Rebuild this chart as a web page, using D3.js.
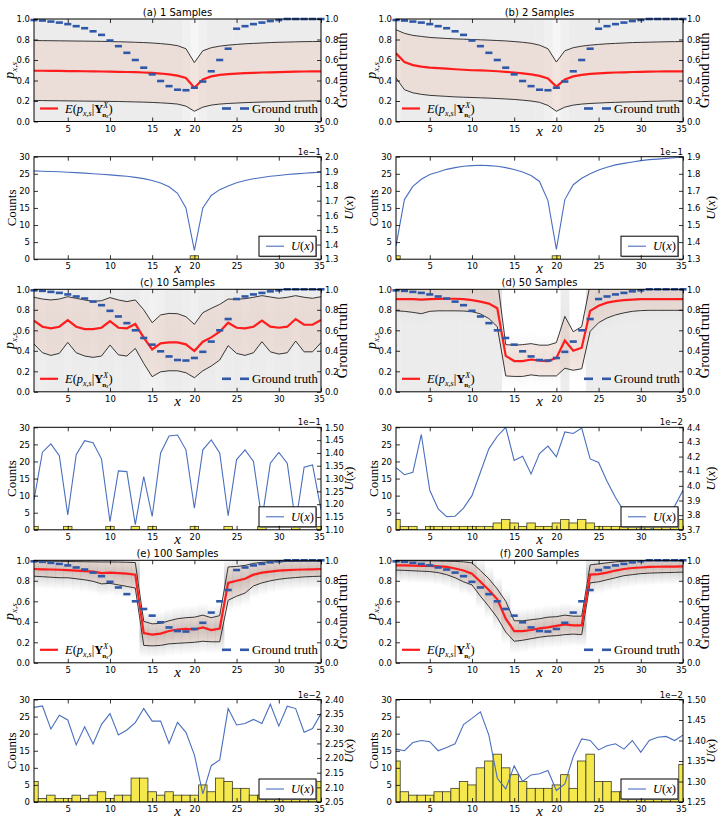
<!DOCTYPE html>
<html><head><meta charset="utf-8">
<script src="https://cdn.jsdelivr.net/npm/d3@7"></script>
<style>body{margin:0;background:#fff}svg{display:block}</style>
</head><body>
<svg id="chart" width="724" height="826"></svg>
<script>
// ---------------- DATA ----------------
const xs = d3.range(1, 36);
const xTicks = [5, 10, 15, 20, 25, 30, 35];
const pTicks = [0, 0.2, 0.4, 0.6, 0.8, 1.0];
const countTicks = [0, 5, 10, 15, 20, 25, 30];

const groundTruth = [0.99,0.985,0.975,0.965,0.95,0.93,0.91,0.88,0.845,0.79,0.735,0.67,0.6,0.525,0.46,0.395,0.345,0.31,0.305,0.33,0.39,0.49,0.6,0.71,0.905,0.93,0.95,0.965,0.98,0.99,1.0,1.0,1.0,1.0,1.0];

const meanA  = [0.495,0.495,0.494,0.493,0.492,0.491,0.49,0.489,0.488,0.487,0.485,0.483,0.481,0.478,0.474,0.468,0.46,0.448,0.425,0.33,0.41,0.44,0.455,0.463,0.468,0.472,0.475,0.478,0.48,0.482,0.484,0.486,0.488,0.489,0.49];
const upperA = [0.79,0.789,0.788,0.787,0.786,0.785,0.784,0.783,0.782,0.78,0.778,0.776,0.773,0.77,0.766,0.76,0.752,0.74,0.71,0.575,0.69,0.72,0.735,0.745,0.752,0.758,0.762,0.766,0.77,0.773,0.775,0.777,0.779,0.78,0.781];
const lowerA = [0.205,0.204,0.203,0.202,0.201,0.2,0.199,0.198,0.197,0.196,0.195,0.193,0.191,0.189,0.186,0.182,0.177,0.17,0.15,0.1,0.14,0.16,0.17,0.176,0.18,0.184,0.187,0.19,0.192,0.194,0.196,0.198,0.2,0.201,0.202];
const countsA = [0,0,0,0,0,0,0,0,0,0,0,0,0,0,0,0,0,0,0,1,0,0,0,0,0,0,0,0,0,0,0,0,0,0,0];
const uA = [1.903,1.901,1.899,1.897,1.894,1.891,1.888,1.884,1.88,1.876,1.871,1.866,1.859,1.85,1.838,1.821,1.795,1.75,1.65,1.36,1.65,1.735,1.775,1.80,1.822,1.837,1.849,1.858,1.866,1.872,1.878,1.883,1.887,1.891,1.894];
const densA = [1,1,1,1,1,1,1,1,1,1,1,1,1,1,1,1,1,1,0.8,0.45,0.8,1,1,1,1,1,1,1,1,1,1,1,1,1,1];

const meanB  = [0.665,0.58,0.55,0.535,0.525,0.52,0.515,0.51,0.505,0.5,0.498,0.495,0.49,0.485,0.478,0.47,0.46,0.445,0.42,0.34,0.41,0.44,0.455,0.465,0.47,0.475,0.478,0.48,0.483,0.485,0.487,0.488,0.49,0.49,0.49];
const upperB = [0.895,0.86,0.84,0.83,0.82,0.815,0.81,0.806,0.803,0.8,0.797,0.794,0.79,0.786,0.78,0.773,0.763,0.745,0.71,0.58,0.69,0.72,0.735,0.745,0.752,0.758,0.762,0.766,0.77,0.772,0.774,0.776,0.778,0.779,0.78];
const lowerB = [0.425,0.31,0.28,0.265,0.255,0.25,0.245,0.24,0.237,0.234,0.231,0.228,0.224,0.22,0.215,0.208,0.2,0.187,0.157,0.1,0.14,0.16,0.17,0.176,0.18,0.184,0.187,0.19,0.192,0.194,0.196,0.198,0.2,0.201,0.202];
const countsB = [1,0,0,0,0,0,0,0,0,0,0,0,0,0,0,0,0,0,0,1,0,0,0,0,0,0,0,0,0,0,0,0,0,0,0];
const uB = [1.378,1.649,1.726,1.768,1.796,1.81,1.826,1.836,1.844,1.848,1.85,1.848,1.844,1.836,1.825,1.81,1.79,1.755,1.643,1.358,1.649,1.736,1.774,1.80,1.822,1.838,1.852,1.861,1.869,1.877,1.883,1.886,1.89,1.894,1.898];
const densB = [0.7,1,1,1,1,1,1,1,1,1,1,1,1,1,1,1,1,1,0.8,0.45,0.8,1,1,1,1,1,1,1,1,1,1,1,1,1,1];

const meanC  = [0.694,0.635,0.619,0.635,0.70,0.635,0.612,0.612,0.625,0.69,0.625,0.619,0.661,0.528,0.414,0.472,0.482,0.482,0.463,0.397,0.489,0.531,0.586,0.674,0.625,0.619,0.635,0.694,0.635,0.625,0.635,0.71,0.654,0.654,0.70];
const upperC = [0.922,0.905,0.896,0.905,0.928,0.912,0.896,0.883,0.889,0.919,0.896,0.88,0.896,0.80,0.674,0.75,0.765,0.762,0.733,0.658,0.772,0.814,0.853,0.905,0.902,0.909,0.922,0.938,0.925,0.912,0.922,0.938,0.922,0.912,0.928];
const lowerC = [0.466,0.381,0.355,0.375,0.482,0.381,0.349,0.336,0.349,0.456,0.36,0.349,0.423,0.277,0.147,0.195,0.205,0.205,0.186,0.137,0.205,0.251,0.31,0.45,0.375,0.355,0.381,0.489,0.39,0.368,0.381,0.495,0.39,0.39,0.479];
const countsC = [1,0,0,0,1,0,0,0,0,1,0,0,1,0,1,0,0,0,0,1,0,0,0,1,0,0,0,1,0,0,0,1,0,0,1];
const uC = [1.217,1.403,1.435,1.389,1.158,1.393,1.448,1.44,1.376,1.132,1.33,1.327,1.12,1.308,1.152,1.40,1.466,1.47,1.412,1.184,1.412,1.451,1.40,1.155,1.374,1.412,1.367,1.139,1.36,1.402,1.36,1.126,1.344,1.353,1.178];
const densC = [1,0.9,1,1,0.9,1,1,0.9,1,1,0.9,1,1,0.8,0.7,0.8,1,1,0.9,0.8,1,1,0.9,1,1,0.9,1,1,0.9,1,1,0.9,1,1,1];

const meanD  = [0.905,0.905,0.905,0.9,0.905,0.907,0.908,0.908,0.905,0.895,0.88,0.86,0.815,0.35,0.30,0.30,0.315,0.305,0.30,0.33,0.50,0.40,0.43,0.79,0.84,0.87,0.885,0.895,0.9,0.905,0.905,0.905,0.905,0.905,0.905];
const upperD = [1.2,1.2,1.2,1.2,1.2,1.2,1.2,1.2,1.2,1.2,1.2,1.2,1.1,0.46,0.455,0.46,0.47,0.455,0.455,0.48,0.736,0.586,0.635,1.05,1.2,1.2,1.2,1.2,1.2,1.2,1.2,1.2,1.2,1.2,1.2];
const lowerD = [0.79,0.785,0.775,0.762,0.785,0.79,0.79,0.79,0.788,0.782,0.76,0.715,0.635,0.155,0.15,0.15,0.165,0.155,0.155,0.155,0.23,0.21,0.225,0.59,0.674,0.72,0.75,0.77,0.785,0.792,0.795,0.795,0.795,0.795,0.795];
const countsD = [3,1,1,0,1,1,1,1,1,1,1,1,2,3,2,1,2,1,1,2,3,2,3,2,1,1,1,1,1,1,1,1,1,1,3];
const uD = [4.125,4.076,4.093,4.351,3.97,3.843,3.79,3.793,3.848,3.933,4.093,4.253,4.339,4.40,4.174,4.203,4.081,4.22,4.272,4.198,4.368,4.358,4.395,4.184,4.16,4.032,3.921,3.828,3.754,3.705,3.70,3.73,3.779,3.86,3.97];
const densD = [1,1,1,1,1,1,1,1,1,1,1,1,1,0,0,0,0,0,0,0,1,0,0,1,1,1,1,1,1,1,1,1,1,1,1];

const meanE  = [0.915,0.912,0.91,0.908,0.905,0.9,0.895,0.89,0.875,0.88,0.875,0.87,0.86,0.29,0.275,0.285,0.31,0.325,0.33,0.325,0.345,0.32,0.335,0.78,0.80,0.82,0.86,0.88,0.89,0.9,0.905,0.908,0.91,0.912,0.915];
const upperE = [0.99,0.99,0.99,0.99,0.988,0.987,0.986,0.985,0.984,0.984,0.983,0.981,0.978,0.404,0.38,0.385,0.41,0.43,0.44,0.445,0.465,0.44,0.46,0.935,0.94,0.95,0.97,0.98,0.985,0.987,0.988,0.989,0.99,0.99,0.99];
const lowerE = [0.845,0.84,0.835,0.83,0.83,0.82,0.81,0.795,0.77,0.775,0.76,0.745,0.73,0.17,0.165,0.17,0.185,0.19,0.195,0.2,0.21,0.205,0.205,0.61,0.65,0.68,0.75,0.78,0.8,0.815,0.825,0.832,0.838,0.842,0.845];
const countsE = [6,1,2,1,1,2,1,2,3,1,2,2,7,7,3,2,3,2,2,2,5,3,7,6,4,4,2,2,2,1,2,1,1,2,6];
const uE = [2.373,2.378,2.299,2.346,2.33,2.245,2.307,2.248,2.315,2.352,2.279,2.296,2.321,2.369,2.326,2.326,2.25,2.322,2.288,2.211,2.078,2.174,2.194,2.369,2.313,2.318,2.332,2.318,2.384,2.309,2.377,2.369,2.288,2.301,2.352];
const densE = xs.map(() => 0);

const meanF  = [0.95,0.95,0.948,0.946,0.945,0.94,0.935,0.92,0.9,0.87,0.79,0.71,0.62,0.43,0.31,0.31,0.32,0.335,0.345,0.36,0.375,0.365,0.365,0.86,0.865,0.88,0.9,0.915,0.925,0.93,0.935,0.937,0.938,0.939,0.94];
const upperF = [0.995,0.995,0.995,0.995,0.995,0.993,0.991,0.989,0.985,0.975,0.9,0.82,0.72,0.6,0.41,0.41,0.42,0.43,0.445,0.45,0.465,0.455,0.455,0.955,0.965,0.975,0.985,0.99,0.995,0.995,0.995,0.995,0.995,0.995,0.995];
const lowerF = [0.905,0.902,0.898,0.894,0.89,0.88,0.86,0.83,0.79,0.76,0.65,0.55,0.44,0.30,0.21,0.22,0.235,0.25,0.26,0.265,0.275,0.28,0.275,0.78,0.79,0.81,0.83,0.85,0.86,0.87,0.875,0.878,0.88,0.882,0.885];
const countsF = [12,3,2,2,2,3,3,4,6,5,10,12,14,10,8,6,4,4,4,5,8,4,12,14,6,6,3,3,4,4,4,4,4,4,11];
const uF = [1.379,1.375,1.395,1.40,1.397,1.375,1.383,1.392,1.439,1.454,1.47,1.413,1.308,1.282,1.338,1.30,1.316,1.319,1.327,1.278,1.294,1.361,1.404,1.40,1.377,1.387,1.392,1.379,1.40,1.371,1.40,1.408,1.41,1.40,1.413];
const densF = xs.map(() => 0);

const titles = ["(a) 1 Samples", "(b) 2 Samples", "(c) 10 Samples", "(d) 50 Samples", "(e) 100 Samples", "(f) 200 Samples"];
const uDomains = [[1.3, 2.0], [1.3, 1.9], [1.10, 1.50], [3.7, 4.4], [2.05, 2.40], [1.25, 1.50]];
const uSteps = [0.1, 0.1, 0.05, 0.1, 0.05, 0.05];
const uExponents = ["1e\u22121", "1e\u22121", "1e\u22121", "1e\u22122", "1e\u22122", "1e\u22122"];
const halo = [0, 0, 0.04, 0.12, 0.45, 0.45];

const panels = [
  {mean: meanA, upper: upperA, lower: lowerA, counts: countsA, u: uA, dens: densA},
  {mean: meanB, upper: upperB, lower: lowerB, counts: countsB, u: uB, dens: densB},
  {mean: meanC, upper: upperC, lower: lowerC, counts: countsC, u: uC, dens: densC},
  {mean: meanD, upper: upperD, lower: lowerD, counts: countsD, u: uD, dens: densD},
  {mean: meanE, upper: upperE, lower: lowerE, counts: countsE, u: uE, dens: densE},
  {mean: meanF, upper: upperF, lower: lowerF, counts: countsF, u: uF, dens: densF},
].map((p, i) => Object.assign(p, {title: titles[i], uDomain: uDomains[i], uStep: uSteps[i], uExp: uExponents[i], halo: halo[i], id: i}));

// ---------------- LAYOUT ----------------
const PW = 287, PH = 102.5;
const colX = [34, 396];
const rowTop = [19, 289.3, 560.3];
const rowBot = [156.7, 427.3, 699.5];
const SANS = "'DejaVu Sans', sans-serif";
const SERIF = "'Liberation Serif', 'DejaVu Serif', serif";

const svg = d3.select("#chart");
const defs = svg.append("defs");

function clip(id, x0, y0) {
  defs.append("clipPath").attr("id", id).append("rect")
    .attr("x", x0).attr("y", y0).attr("width", PW).attr("height", PH);
  return `url(#${id})`;
}

function frame(g, x, yL, x0, y0, leftTicks, leftFmt, rightScale, rightTicks, rightFmt) {
  g.append("rect").attr("x", x0).attr("y", y0).attr("width", PW).attr("height", PH)
    .attr("fill", "none").attr("stroke", "#000").attr("stroke-width", 1);
  const ax = (axis, tx, ty) => {
    const a = g.append("g").attr("transform", `translate(${tx},${ty})`).call(axis);
    a.select(".domain").remove();
    a.selectAll("text").attr("font-family", SANS).attr("font-size", 8.5).attr("fill", "#000");
    a.selectAll("line").attr("stroke", "#000").attr("stroke-width", 0.8);
    return a;
  };
  const bx = ax(d3.axisBottom(x).tickValues(xTicks).tickSizeInner(-4).tickSizeOuter(0).tickPadding(4).tickFormat(d3.format("d")), 0, y0 + PH);
  // last x label nudged left so it does not collide with the right axis' bottom label
  bx.selectAll(".tick").filter(d => d === 35).select("text").attr("dx", -2);
  ax(d3.axisTop(x).tickValues(xTicks).tickSizeInner(-4).tickSizeOuter(0).tickFormat(""), 0, y0);
  ax(d3.axisLeft(yL).tickValues(leftTicks).tickSizeInner(-4).tickSizeOuter(0).tickPadding(4).tickFormat(leftFmt), x0, 0);
  ax(d3.axisRight(rightScale).tickValues(rightTicks).tickSizeInner(-4).tickSizeOuter(0).tickPadding(4).tickFormat(rightFmt), x0 + PW, 0);
}

function xLabel(g, x0, yBase) {
  g.append("text").attr("x", x0 + PW / 2).attr("y", yBase).attr("text-anchor", "middle")
    .attr("font-family", SERIF).attr("font-style", "italic").attr("font-size", 15).text("x");
}

function topPanel(p, x0, y0) {
  const g = svg.append("g");
  const x = d3.scaleLinear([1, 35], [x0, x0 + PW]);
  const y = d3.scaleLinear([0, 1], [y0 + PH, y0]);
  const gc = g.append("g").attr("clip-path", clip("ct" + p.id, x0, y0));
  const colW = x(2) - x(1);

  gc.selectAll("rect.bg").data(xs).join("rect")
    .attr("x", d => x(d - 0.5)).attr("width", colW + 0.4)
    .attr("y", y0).attr("height", PH)
    .attr("fill", "#ececec").attr("fill-opacity", (d, i) => p.dens[i]);

  if (p.halo > 0) {
    const gid = "halo" + p.id;
    const gr = defs.append("linearGradient").attr("id", gid).attr("x1", 0).attr("y1", 0).attr("x2", 0).attr("y2", 1);
    [[0, 0], [0.3, 0.55], [0.5, 1], [0.7, 0.55], [1, 0]].forEach(([o, k]) =>
      gr.append("stop").attr("offset", o).attr("stop-color", "#7a7a7a").attr("stop-opacity", p.halo * k));
    const pad = 0.12;
    gc.selectAll("rect.halo").data(xs).join("rect")
      .attr("x", d => x(d - 0.5)).attr("width", colW + 0.4)
      .attr("y", (d, i) => y(p.upper[i] + pad))
      .attr("height", (d, i) => y(p.lower[i] - pad) - y(p.upper[i] + pad))
      .attr("fill", `url(#${gid})`);
  }

  const area = d3.area().x((d, i) => x(xs[i])).y0((d, i) => y(p.lower[i])).y1((d, i) => y(p.upper[i]));
  gc.append("path").datum(p.mean).attr("d", area).attr("fill", "#e8bba8").attr("fill-opacity", 0.3);
  const line = arr => d3.line().x((d, i) => x(xs[i])).y(d => y(d))(arr);
  gc.append("path").attr("d", line(p.upper)).attr("fill", "none").attr("stroke", "#222").attr("stroke-width", 0.9);
  gc.append("path").attr("d", line(p.lower)).attr("fill", "none").attr("stroke", "#222").attr("stroke-width", 0.9);
  gc.append("path").attr("d", line(p.mean)).attr("fill", "none").attr("stroke", "#ff1c1c").attr("stroke-width", 2.2);

  g.selectAll("line.gt").data(groundTruth).join("line")
    .attr("x1", (d, i) => x(xs[i] - 0.42)).attr("x2", (d, i) => x(xs[i] + 0.42))
    .attr("y1", d => y(d)).attr("y2", d => y(d))
    .attr("stroke", "#2f58a8").attr("stroke-width", 2.6);

  frame(g, x, y, x0, y0, pTicks, d3.format(".1f"), y, pTicks, d3.format(".1f"));

  g.append("text").attr("x", x0 + PW / 2).attr("y", y0 - 3).attr("text-anchor", "middle")
    .attr("font-family", SANS).attr("font-size", 10).text(p.title);
  xLabel(g, x0, y0 + PH + 14);

  const ly = g.append("text").attr("transform", `translate(${x0 - 20},${y0 + PH / 2}) rotate(-90)`)
    .attr("text-anchor", "middle").attr("font-family", SERIF).attr("font-style", "italic").attr("font-size", 14);
  ly.append("tspan").text("p");
  ly.append("tspan").attr("font-size", 9).attr("dy", 3).text("x,s");
  g.append("text").attr("transform", `translate(${x0 + PW + 26},${y0 + PH / 2}) rotate(-90)`)
    .attr("text-anchor", "middle").attr("font-family", SERIF).attr("font-size", 14.5).text("Ground truth");

  const ly0 = y0 + PH - 13;
  g.append("line").attr("x1", x0 + 6).attr("x2", x0 + 24).attr("y1", ly0).attr("y2", ly0)
    .attr("stroke", "#ff1c1c").attr("stroke-width", 2.2);
  const lt = g.append("text").attr("x", x0 + 31).attr("y", ly0 + 4.5).attr("font-family", SERIF).attr("font-size", 12.5);
  lt.append("tspan").attr("font-style", "italic").text("E");
  lt.append("tspan").text("(");
  lt.append("tspan").attr("font-style", "italic").text("p");
  lt.append("tspan").attr("font-style", "italic").attr("font-size", 8).attr("dy", 2.5).text("x,s");
  lt.append("tspan").attr("dy", -2.5).text("|");
  lt.append("tspan").attr("font-weight", "bold").text("Y");
  lt.append("tspan").attr("font-style", "italic").attr("font-size", 8).attr("dy", -5).text("X");
  lt.append("tspan").attr("font-weight", "bold").attr("font-size", 7).attr("dx", -6).attr("dy", 8.5).text("n");
  lt.append("tspan").attr("font-style", "italic").attr("font-size", 5.5).attr("dy", 1.5).text("x");
  lt.append("tspan").attr("dy", -5).text(")");

  [[188, 197], [206, 215]].forEach(([a, b]) => {
    g.append("line").attr("x1", x0 + a).attr("x2", x0 + b).attr("y1", ly0).attr("y2", ly0)
      .attr("stroke", "#2f58a8").attr("stroke-width", 2.6);
  });
  g.append("text").attr("x", x0 + 218).attr("y", ly0 + 4.5).attr("font-family", SERIF).attr("font-size", 12.7).text("Ground truth");
}

function bottomPanel(p, x0, y0) {
  const g = svg.append("g");
  const x = d3.scaleLinear([1, 35], [x0, x0 + PW]);
  const yC = d3.scaleLinear([0, 30], [y0 + PH, y0]);
  const yU = d3.scaleLinear(p.uDomain, [y0 + PH, y0]);
  const gc = g.append("g").attr("clip-path", clip("cb" + p.id, x0, y0));
  const colW = x(2) - x(1);

  gc.selectAll("rect.bar").data(p.counts).join("rect")
    .attr("x", (d, i) => x(xs[i] - 0.5)).attr("width", colW)
    .attr("y", d => yC(d)).attr("height", d => yC(0) - yC(d))
    .attr("fill", "#f4e84c").attr("stroke", "#3a3a2a").attr("stroke-width", 0.8)
    .attr("display", d => d > 0 ? null : "none");

  const bx = x0 + 225, by = y0 + PH - 23;
  g.append("rect").attr("x", bx + 1).attr("y", by + 1).attr("width", 57).attr("height", 20).attr("fill", "#999");
  g.append("rect").attr("x", bx).attr("y", by).attr("width", 57).attr("height", 20)
    .attr("fill", "#fff").attr("stroke", "#000").attr("stroke-width", 1);
  g.append("line").attr("x1", bx + 7).attr("x2", bx + 25).attr("y1", by + 10).attr("y2", by + 10)
    .attr("stroke", "#4a6fbf").attr("stroke-width", 1.1);
  const lt = g.append("text").attr("x", bx + 32).attr("y", by + 14).attr("font-family", SERIF).attr("font-size", 12.5);
  lt.append("tspan").attr("font-style", "italic").text("U");
  lt.append("tspan").text("(");
  lt.append("tspan").attr("font-style", "italic").text("x");
  lt.append("tspan").text(")");

  const line = d3.line().x((d, i) => x(xs[i])).y(d => yU(d));
  gc.append("path").attr("d", line(p.u)).attr("fill", "none").attr("stroke", "#4a6fbf").attr("stroke-width", 1.1);

  const uTicks = d3.range(0, Math.round((p.uDomain[1] - p.uDomain[0]) / p.uStep) + 1).map(k => p.uDomain[0] + k * p.uStep);
  frame(g, x, yC, x0, y0, countTicks, d3.format("d"), yU, uTicks, d3.format(p.uStep < 0.1 ? ".2f" : ".1f"));

  g.append("text").attr("x", x0 + PW).attr("y", y0 - 2).attr("text-anchor", "end")
    .attr("font-family", SANS).attr("font-size", 8.5).text(p.uExp);
  xLabel(g, x0, y0 + PH + 14);

  g.append("text").attr("transform", `translate(${x0 - 18},${y0 + PH / 2}) rotate(-90)`)
    .attr("text-anchor", "middle").attr("font-family", SERIF).attr("font-size", 13).text("Counts");
  const ru = g.append("text").attr("transform", `translate(${x0 + PW + 32},${y0 + PH / 2}) rotate(-90)`)
    .attr("text-anchor", "middle").attr("font-family", SERIF).attr("font-size", 13);
  ru.append("tspan").attr("font-style", "italic").text("U");
  ru.append("tspan").text("(");
  ru.append("tspan").attr("font-style", "italic").text("x");
  ru.append("tspan").text(")");
}

panels.forEach((p, i) => {
  const c = i % 2, r = Math.floor(i / 2);
  topPanel(p, colX[c], rowTop[r]);
  bottomPanel(p, colX[c], rowBot[r]);
});
</script>
</body></html>
